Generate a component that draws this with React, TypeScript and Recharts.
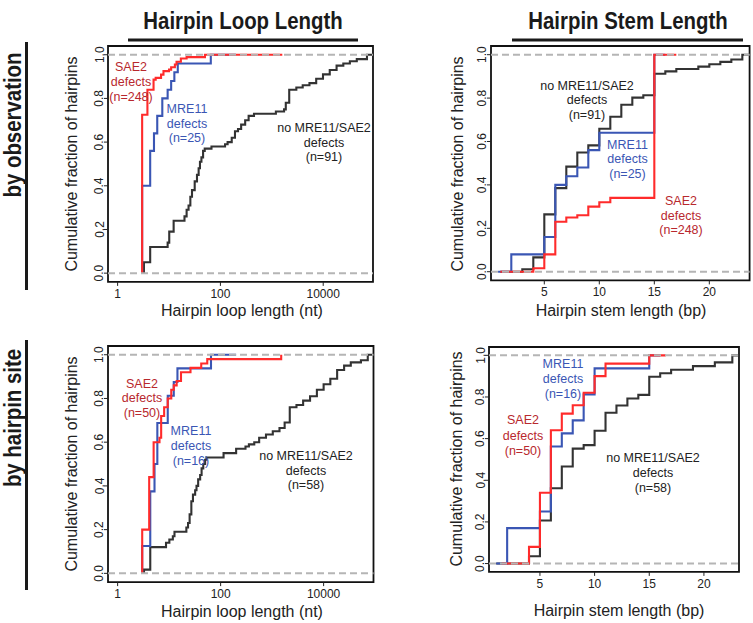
import React from 'react';
import { LineChart, Line, XAxis, YAxis, ReferenceLine, ReferenceArea } from 'recharts';

const FONT = '"Liberation Sans", Arial, Helvetica, sans-serif';
const RED = '#ff2b2b';
const BLUE = '#3a56b4';
const BLACK = '#333333';
const RED_TEXT = '#b8282e';
const BLUE_TEXT = '#3a56b4';
const GRAY = '#b5b5b5';

// ---------- Tick labels ----------
const yTicks = [0, 0.2, 0.4, 0.6, 0.8, 1.0];
const loopTicks = [1, 100, 10000];
const stemTicks = [5, 10, 15, 20];

// ---------- Hairpin loop length, by observation ----------
const loopObsNoneX = [3.25, 3.25, 4.3, 9.4, 10.1, 12.3, 20, 22, 24, 26, 28, 31.6, 35, 37.7, 40, 42.7, 46, 49.5, 67, 123, 138, 166, 192, 220, 253, 303, 354, 450, 1200, 1730, 1870, 2180, 3000, 3990, 5400, 7300, 9900, 13400, 18200, 24600, 33000, 45000, 71000, 93000];
const loopObsNoneY = [0, 0.05, 0.12, 0.14, 0.19, 0.24, 0.26, 0.29, 0.31, 0.35, 0.38, 0.42, 0.45, 0.48, 0.51, 0.53, 0.56, 0.57, 0.58, 0.59, 0.6, 0.62, 0.65, 0.66, 0.68, 0.7, 0.72, 0.73, 0.74, 0.75, 0.78, 0.84, 0.85, 0.86, 0.87, 0.89, 0.91, 0.93, 0.95, 0.96, 0.97, 0.98, 1.0, 1.0];
const loopObsMreX = [3, 3, 4.3, 5.1, 5.9, 7.4, 9.4, 11, 12.7, 14.8, 65, 200];
const loopObsMreY = [0, 0.4, 0.56, 0.64, 0.72, 0.8, 0.84, 0.88, 0.92, 0.96, 1.0, 1.0];
const loopObsSaeX = [3, 3, 3.8, 5, 5.5, 7, 7.8, 10, 11, 13, 14, 17, 22, 50, 1600];
const loopObsSaeY = [0, 0.725, 0.84, 0.886, 0.894, 0.909, 0.925, 0.932, 0.943, 0.955, 0.968, 0.983, 0.989, 1.0, 1.0];

// ---------- Hairpin stem length, by observation ----------
const stemObsNoneX = [1, 3, 4, 5, 6, 7, 8, 9, 10, 11, 12, 13, 14, 15, 16, 17, 19, 20, 21, 22, 23, 23.7];
const stemObsNoneY = [0, 0.011, 0.066, 0.264, 0.385, 0.484, 0.549, 0.582, 0.659, 0.714, 0.769, 0.802, 0.813, 0.912, 0.923, 0.934, 0.945, 0.956, 0.967, 0.978, 1.0, 1.0];
const stemObsMreX = [0.8, 2, 5, 6, 7, 8, 9, 10, 15, 16];
const stemObsMreY = [0, 0.08, 0.16, 0.4, 0.44, 0.48, 0.56, 0.64, 1.0, 1.0];
const stemObsSaeX = [1, 4, 5, 6, 7, 8, 9, 10, 11, 15, 17];
const stemObsSaeY = [0, 0.016, 0.08, 0.23, 0.25, 0.26, 0.3, 0.32, 0.34, 1.0, 1.0];

// ---------- Hairpin loop length, by hairpin site ----------
const loopSiteNoneX = [3.25, 3.25, 4.3, 8.7, 10.1, 11.8, 12.7, 21.6, 23.3, 25, 27, 29, 32, 34, 36.6, 40, 42.7, 46, 50, 53, 114, 200, 304, 354, 450, 560, 760, 1030, 1390, 1750, 2200, 2970, 4000, 5450, 7400, 10000, 13500, 18300, 25000, 33700, 53000, 72000, 93000];
const loopSiteNoneY = [0, 0.017, 0.12, 0.14, 0.155, 0.17, 0.19, 0.21, 0.23, 0.27, 0.33, 0.36, 0.38, 0.4, 0.43, 0.45, 0.48, 0.5, 0.52, 0.53, 0.55, 0.57, 0.58, 0.59, 0.6, 0.62, 0.635, 0.65, 0.665, 0.69, 0.76, 0.77, 0.79, 0.81, 0.84, 0.865, 0.89, 0.93, 0.95, 0.965, 0.975, 1.0, 1.0];
const loopSiteMreX = [3, 3, 4.3, 5.2, 5.9, 9.4, 12.3, 14.5, 65, 200];
const loopSiteMreY = [0, 0.125, 0.375, 0.5, 0.6875, 0.8125, 0.875, 0.9375, 1.0, 1.0];
const loopSiteSaeX = [3, 3, 4.1, 5, 6.5, 7, 8, 9.4, 11, 12.3, 14, 17, 26, 42, 55, 1500];
const loopSiteSaeY = [0, 0.2, 0.44, 0.6, 0.62, 0.72, 0.76, 0.8, 0.84, 0.86, 0.88, 0.92, 0.94, 0.96, 0.98, 1.0];

// ---------- Hairpin stem length, by hairpin site ----------
const stemSiteNoneX = [1, 4, 5, 6, 7, 8, 9, 10, 11, 12, 13, 14, 15, 16, 17, 19, 21, 22.6, 23.2];
const stemSiteNoneY = [0, 0.035, 0.207, 0.362, 0.466, 0.552, 0.569, 0.638, 0.724, 0.759, 0.793, 0.81, 0.897, 0.914, 0.931, 0.948, 0.966, 1.0, 1.0];
const stemSiteMreX = [1, 2, 5, 6, 7, 8, 9, 10, 15, 16];
const stemSiteMreY = [0, 0.17, 0.25, 0.5625, 0.625, 0.6875, 0.8125, 0.9375, 1.0, 1.0];
const stemSiteSaeX = [1.5, 4, 5, 6, 7, 8, 9, 10, 11, 15, 16.5];
const stemSiteSaeY = [0, 0.08, 0.34, 0.64, 0.72, 0.76, 0.82, 0.9, 0.96, 1.0, 1.0];

type Pt = { x: number; y: number };
const zip = (xs: number[], ys: number[]): Pt[] => xs.map((x, i) => ({ x, y: ys[i] }));

type Box = { l: number; t: number; r: number; b: number };
type Series = { name: string; data: Pt[]; color: string };
type PanelDef = {
  id: string;
  box: Box;
  xDomain: [number, number];
  log: boolean;
  xTicks: number[];
  series: Series[];
};

const panels: PanelDef[] = [
  {
    id: 'loopObs',
    box: { l: 108, t: 45.8, r: 373, b: 281.7 },
    xDomain: [0.65, 93000],
    log: true,
    xTicks: loopTicks,
    series: [
      { name: 'none', data: zip(loopObsNoneX, loopObsNoneY), color: BLACK },
      { name: 'mre11', data: zip(loopObsMreX, loopObsMreY), color: BLUE },
      { name: 'sae2', data: zip(loopObsSaeX, loopObsSaeY), color: RED },
    ],
  },
  {
    id: 'stemObs',
    box: { l: 490.7, t: 46.3, r: 749.3, b: 280.7 },
    xDomain: [0.155, 23.66],
    log: false,
    xTicks: stemTicks,
    series: [
      { name: 'none', data: zip(stemObsNoneX, stemObsNoneY), color: BLACK },
      { name: 'mre11', data: zip(stemObsMreX, stemObsMreY), color: BLUE },
      { name: 'sae2', data: zip(stemObsSaeX, stemObsSaeY), color: RED },
    ],
  },
  {
    id: 'loopSite',
    box: { l: 108, t: 345.7, r: 373.5, b: 581.8 },
    xDomain: [0.65, 93000],
    log: true,
    xTicks: loopTicks,
    series: [
      { name: 'none', data: zip(loopSiteNoneX, loopSiteNoneY), color: BLACK },
      { name: 'mre11', data: zip(loopSiteMreX, loopSiteMreY), color: BLUE },
      { name: 'sae2', data: zip(loopSiteSaeX, loopSiteSaeY), color: RED },
    ],
  },
  {
    id: 'stemSite',
    box: { l: 489, t: 346.7, r: 739, b: 571.6 },
    xDomain: [0.34, 23.21],
    log: false,
    xTicks: stemTicks,
    series: [
      { name: 'none', data: zip(stemSiteNoneX, stemSiteNoneY), color: BLACK },
      { name: 'mre11', data: zip(stemSiteMreX, stemSiteMreY), color: BLUE },
      { name: 'sae2', data: zip(stemSiteSaeX, stemSiteSaeY), color: RED },
    ],
  },
];

const YTick = (props: any) => {
  const { x, y, payload } = props;
  return (
    <text
      x={x}
      y={y}
      transform={`rotate(-90 ${x} ${y})`}
      textAnchor="middle"
      fontSize={12}
      fill="#222"
      fontFamily={FONT}
    >
      {Number(payload.value).toFixed(1)}
    </text>
  );
};

const YW = 40;
const MT = 6;
const MR = 6;
const XH = 30;

function Panel({ box, xDomain, log, xTicks, series }: PanelDef) {
  const w = box.r - box.l;
  const h = box.b - box.t;
  return (
    <div style={{ position: 'absolute', left: box.l - YW, top: box.t - MT }}>
      <LineChart
        width={YW + w + MR}
        height={MT + h + XH}
        margin={{ top: MT, right: MR, bottom: 0, left: 0 }}
      >
        <XAxis
          dataKey="x"
          type="number"
          scale={log ? 'log' : 'linear'}
          domain={xDomain}
          ticks={xTicks}
          interval={0}
          allowDataOverflow
          axisLine={false}
          tickLine={{ stroke: '#222' }}
          tickSize={4}
          tickMargin={3.5}
          height={XH}
          tick={{ fontSize: 12, fill: '#222', fontFamily: FONT }}
          tickFormatter={(v: number) => String(v)}
        />
        <YAxis
          type="number"
          domain={[-0.04, 1.04]}
          ticks={yTicks}
          interval={0}
          allowDataOverflow
          width={YW}
          axisLine={false}
          tickLine={{ stroke: '#222' }}
          tickSize={4}
          tickMargin={0.5}
          tick={<YTick />}
        />
        <ReferenceArea
          x1={xDomain[0]}
          x2={xDomain[1]}
          y1={-0.04}
          y2={1.04}
          fill="none"
          fillOpacity={0}
          stroke="#111"
          strokeWidth={1.8}
          ifOverflow="visible"
        />
        {series.map((s) => (
          <Line
            key={s.name}
            data={s.data}
            dataKey="y"
            type="stepAfter"
            stroke={s.color}
            strokeWidth={2.1}
            dot={false}
            activeDot={false}
            isAnimationActive={false}
          />
        ))}
        <ReferenceLine y={0} stroke={GRAY} strokeWidth={2} strokeDasharray="7 4" ifOverflow="visible" zIndex={700} />
        <ReferenceLine y={1} stroke={GRAY} strokeWidth={2} strokeDasharray="7 4" ifOverflow="visible" zIndex={700} />
      </LineChart>
    </div>
  );
}

type Note = { cx: number; ys: number[]; lines: string[]; color: string };

const notes: Note[] = [
  { cx: 131, ys: [71, 86, 100.5], lines: ['SAE2', 'defects', '(n=248)'], color: RED_TEXT },
  { cx: 187, ys: [113, 127.5, 142], lines: ['MRE11', 'defects', '(n=25)'], color: BLUE_TEXT },
  { cx: 324, ys: [132, 146.5, 161], lines: ['no MRE11/SAE2', 'defects', '(n=91)'], color: '#222' },
  { cx: 587, ys: [89.5, 104, 118.5], lines: ['no MRE11/SAE2', 'defects', '(n=91)'], color: '#222' },
  { cx: 627.5, ys: [148.5, 163, 178], lines: ['MRE11', 'defects', '(n=25)'], color: BLUE_TEXT },
  { cx: 681, ys: [205, 219.5, 234], lines: ['SAE2', 'defects', '(n=248)'], color: RED_TEXT },
  { cx: 142, ys: [387.5, 402, 417], lines: ['SAE2', 'defects', '(n=50)'], color: RED_TEXT },
  { cx: 191, ys: [435, 450, 465], lines: ['MRE11', 'defects', '(n=16)'], color: BLUE_TEXT },
  { cx: 306, ys: [460, 474.5, 489], lines: ['no MRE11/SAE2', 'defects', '(n=58)'], color: '#222' },
  { cx: 563, ys: [367.5, 383, 398], lines: ['MRE11', 'defects', '(n=16)'], color: BLUE_TEXT },
  { cx: 523, ys: [424, 439.5, 455], lines: ['SAE2', 'defects', '(n=50)'], color: RED_TEXT },
  { cx: 653, ys: [462, 477, 492], lines: ['no MRE11/SAE2', 'defects', '(n=58)'], color: '#222' },
];

const xTitles = [
  { x: 242, y: 316, text: 'Hairpin loop length (nt)' },
  { x: 621, y: 316, text: 'Hairpin stem length (bp)' },
  { x: 242, y: 616.5, text: 'Hairpin loop length (nt)' },
  { x: 619, y: 615.5, text: 'Hairpin stem length (bp)' },
];
const yTitles = [
  { x: 77, y: 164, text: 'Cumulative fraction of hairpins' },
  { x: 463, y: 164, text: 'Cumulative fraction of hairpins' },
  { x: 77, y: 464, text: 'Cumulative fraction of hairpins' },
  { x: 462, y: 459, text: 'Cumulative fraction of hairpins' },
];

// condensed bold headings: drawn at origin, then scaled horizontally
const Heading = ({ x, y, text, rotate }: { x: number; y: number; text: string; rotate?: boolean }) => (
  <g transform={`translate(${x} ${y})${rotate ? ' rotate(-90)' : ''} scale(0.85 1)`}>
    <text x={0} y={0} textAnchor="middle" fontSize={24} fontWeight="bold" fill="#1a1a1a">{text}</text>
  </g>
);

export default function App() {
  return (
    <div style={{ position: 'absolute', left: 0, top: 0, width: 753, height: 623, background: '#fff', overflow: 'hidden' }}>
      {panels.map((p) => (
        <Panel key={p.id} {...p} />
      ))}
      <svg width={753} height={623} style={{ position: 'absolute', left: 0, top: 0, pointerEvents: 'none' }} fontFamily={FONT}>
        {/* column headers */}
        <Heading x={243} y={29} text="Hairpin Loop Length" />
        <rect x={128} y={38.5} width={230} height={3} fill="#1a1a1a" />
        <Heading x={628} y={29} text="Hairpin Stem Length" />
        <rect x={512} y={38.5} width={231} height={3} fill="#1a1a1a" />
        {/* row headers */}
        <Heading x={21} y={125} text="by observation" rotate />
        <rect x={25} y={42} width={3} height={248} fill="#1a1a1a" />
        <Heading x={21} y={418} text="by hairpin site" rotate />
        <rect x={25} y={340} width={3} height={250} fill="#1a1a1a" />
        {xTitles.map((t, i) => (
          <text key={'xt' + i} x={t.x} y={t.y} textAnchor="middle" fontSize={16} fill="#222">{t.text}</text>
        ))}
        {yTitles.map((t, i) => (
          <text key={'yt' + i} x={t.x} y={t.y} transform={`rotate(-90 ${t.x} ${t.y})`} textAnchor="middle" fontSize={16} fill="#222">{t.text}</text>
        ))}
        {notes.map((n, i) =>
          n.lines.map((line, j) => (
            <text key={`n${i}-${j}`} x={n.cx} y={n.ys[j]} textAnchor="middle" fontSize={12.5} fill={n.color}>{line}</text>
          ))
        )}
      </svg>
    </div>
  );
}
